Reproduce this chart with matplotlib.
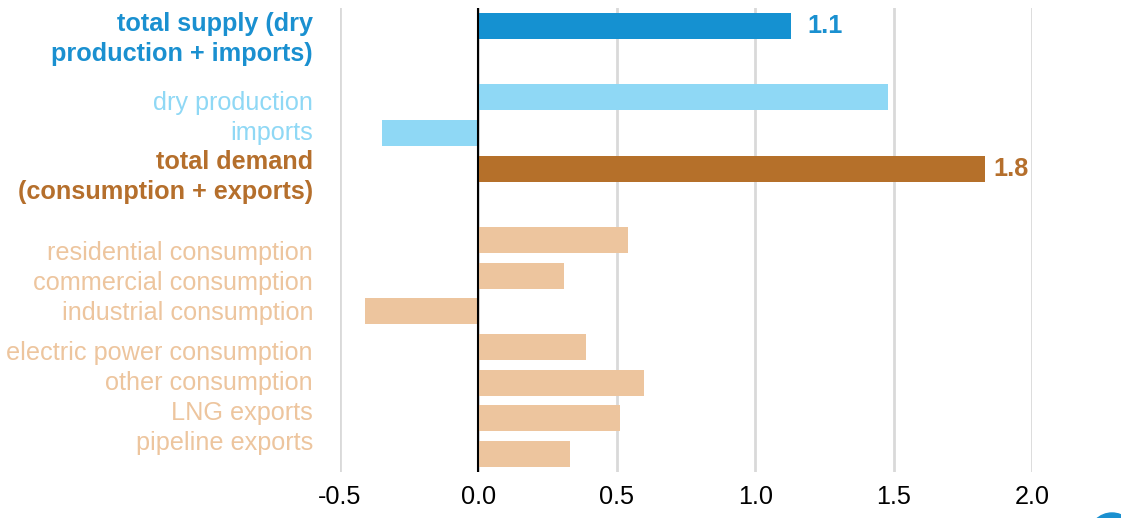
import matplotlib.pyplot as plt
import matplotlib.transforms as mtransforms
from matplotlib.patches import Ellipse

plt.rcParams['font.family'] = ['Liberation Sans', 'DejaVu Sans']

# data
categories = ["total supply (dry\nproduction + imports)", "dry production", "imports",
              "total demand\n(consumption + exports)", "residential consumption",
              "commercial consumption", "industrial consumption",
              "electric power consumption", "other consumption", "LNG exports",
              "pipeline exports"]
values = [1.13, 1.48, -0.35, 1.83, 0.54, 0.31, -0.41, 0.39, 0.60, 0.51, 0.33]
value_labels = {0: "1.1", 3: "1.8"}
xticks = [-0.5, 0.0, 0.5, 1.0, 1.5, 2.0]

# style
bar_colors = ["#1591D1", "#8FD8F5", "#8FD8F5", "#B5702A"] + ["#EDC59E"] * 7
text_colors = ["#1A90D0", "#8FD8F5", "#8FD8F5", "#B56F2C"] + ["#EDC59E"] * 7
bold = [True, False, False, True] + [False] * 7
label_nudge = [0.36, 0.15, -0.01, 0.24, 0.36, 0.2, 0.04, 0.16, 0.0, -0.16, -0.32]
gaps_before = [1, 4]
value_pad = {0: 12, 3: 6}
fs = 18.2

pos = [i + sum(i >= g for g in gaps_before) for i in range(len(values))]

fig = plt.figure(figsize=(11.21, 5.18), dpi=100)
ax = fig.add_axes([340 / 1121, 1 - 472 / 518, (1032 - 340) / 1121, 464 / 518])

ax.barh(pos, values, height=0.73, color=bar_colors, zorder=2)
ax.axvline(0, color="black", lw=1.5, zorder=3)

ax.set_xlim(-0.5, 2.0)
ax.set_ylim(12.5, -0.5)
ax.set_xticks(xticks)
ax.set_xticklabels([f"{t:.1f}" for t in xticks])
ax.set_yticks([])
ax.tick_params(axis="x", length=0, labelsize=fs, pad=9, colors="black")
ax.grid(axis="x", color="#D9D9D9", lw=2, zorder=0)
for s in ax.spines.values():
    s.set_visible(False)

trans = mtransforms.blended_transform_factory(fig.transFigure, ax.transData)
for i, name in enumerate(categories):
    ax.text(313 / 1121, pos[i] + label_nudge[i], name, transform=trans,
            ha="right", va="center", fontsize=fs, color=text_colors[i],
            fontweight="bold" if bold[i] else "normal", linespacing=1.3)

for i, txt in value_labels.items():
    ax.annotate(txt, (values[i], pos[i]), xytext=(value_pad[i], 0),
                textcoords="offset points", ha="left", va="center",
                fontsize=fs, fontweight="bold", color=text_colors[i])

fig.patches.append(Ellipse((1112 / 1121, -18 / 518), 46 / 1121, 46 / 518,
                           transform=fig.transFigure, color="#1A90D0"))

fig.savefig("out.png", dpi=100)
